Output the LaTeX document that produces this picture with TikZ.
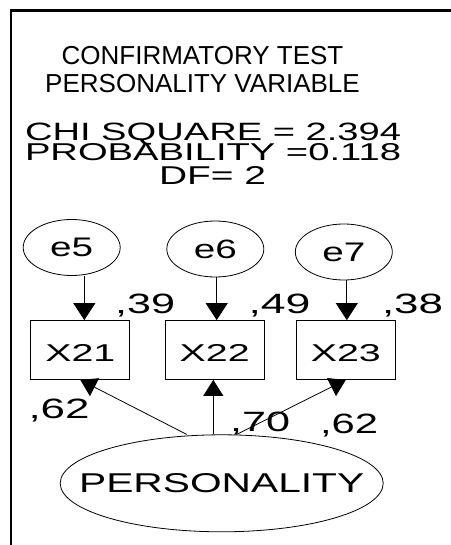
\documentclass[tikz,border=0pt]{standalone}
\usepackage{graphicx}
\usepackage{fontspec}
\setmainfont{Liberation Sans}
\usetikzlibrary{arrows.meta,shapes.geometric,calc}
\newcommand{\fitt}[3]{\resizebox{#1pt}{#2pt}{#3}}
\begin{document}
\begin{tikzpicture}[x=1pt,y=-1pt,
  txt/.style={inner sep=0pt, outer sep=0pt},
  errnode/.style={ellipse, draw, line width=0.8pt, inner sep=0pt, minimum width=97pt, minimum height=56pt},
  obsnode/.style={rectangle, draw, line width=0.8pt, inner sep=0pt, minimum width=99pt, minimum height=59pt, text height=23.4pt, text depth=0pt},
  latnode/.style={ellipse, draw, line width=0.8pt, inner sep=0pt, minimum width=323pt, minimum height=97pt},
  arr/.style={line width=0.8pt, -{Triangle[length=16pt,width=20pt]}},
  arrtop/.style={line width=0.8pt, -{Triangle[length=17pt,width=22pt]}},
  frameline/.style={line width=2.3pt}
]
\useasboundingbox (0,0) rectangle (450,545);
\draw[frameline] (11,546) -- (11,10.5) -- (451,10.5);

% titles
\node[txt, anchor=base] (t1) at (202.5,64.3) {\fontsize{26}{30}\selectfont CONFIRMATORY TEST};
\node[txt, anchor=base] (t2) at (202.5,92.7) {\fontsize{26}{30}\selectfont PERSONALITY VARIABLE};

% statistics
\node[txt, anchor=base west] (chi) at (25,140.5) {\fitt{376}{17.5}{CHI SQUARE = 2.394}};
\node[txt, anchor=base west] (prob) at (25,160.5) {\fitt{376}{17}{PROBABILITY =0.118}};
\node[txt, anchor=base west] (df) at (159,185) {\fitt{107}{18}{DF= 2}};

% error terms
\node[errnode] (e5) at (71.7,247.5) {\fitt{43}{18.5}{e5}};
\node[errnode] (e6) at (215.3,249) {\fitt{43}{18.5}{e6}};
\node[errnode] (e7) at (343.8,252) {\fitt{43}{18.5}{e7}};

% observed variables
\node[obsnode] (X21) at (80.3,350) {\fitt{70}{17}{X21}};
\node[obsnode] (X22) at (214.7,350) {\fitt{70}{17}{X22}};
\node[obsnode] (X23) at (345.8,350) {\fitt{70}{17}{X23}};

% latent variable
\node[latnode] (P) at (221.7,483.3) {\makebox[0pt][c]{\fitt{285}{19}{PERSONALITY}}};

% error arrows
\coordinate (a5) at ($(X21.north)+(4,0)$);
\coordinate (a6) at ($(X22.north)+(2,0)$);
\coordinate (a7) at ($(X23.north)+(1,0)$);
\draw[arrtop] (a5 |- e5.south) -- (a5);
\draw[arrtop] (a6 |- e6.south) -- (a6);
\draw[arrtop] (a7 |- e7.south) -- (a7);

% loadings
\coordinate (p1) at ($(P.north)+(-35,0)$);
\coordinate (p2) at ($(P.north)+(-8.4,0)$);
\coordinate (p3) at ($(P.north)+(15,0)$);
\coordinate (b2) at ($(X22.south)+(-1.4,0)$);
\draw[arr] (p1) -- (X21.south);
\draw[arr] (p2) -- (b2);
\draw[arr] (p3) -- (X23.south);

% coefficient labels
\node[txt, anchor=base west] (l1) at (115,313.3) {\fitt{60}{19.5}{,39}};
\node[txt, anchor=base west] (l2) at (248.5,313.3) {\fitt{62}{19.5}{,49}};
\node[txt, anchor=base west] (l3) at (382,313.3) {\fitt{61}{19.5}{,38}};
\node[txt, anchor=base west] (l4) at (28.5,418.3) {\fitt{61}{19.5}{,62}};
\node[txt, anchor=base west] (l5) at (230,431.5) {\fitt{60}{19.5}{,70}};
\node[txt, anchor=base west] (l6) at (320,433) {\fitt{58}{19.5}{,62}};
\end{tikzpicture}
\end{document}
